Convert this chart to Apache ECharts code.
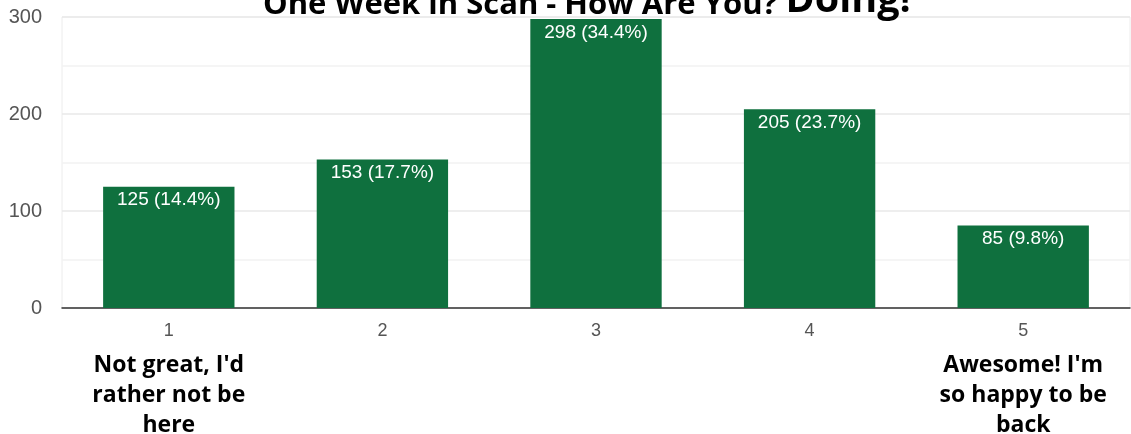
<!DOCTYPE html>
<html>
<head>
<meta charset="utf-8">
<script src="https://cdn.jsdelivr.net/npm/echarts@6/dist/echarts.min.js"></script>
<style>html,body{margin:0;padding:0;background:#fff}#c{width:1131px;height:434px}</style>
</head>
<body>
<div id="c"></div>
<script>
const categories = ['1', '2', '3', '4', '5'];
const counts = [125, 153, 298, 205, 85];
const percents = ['14.4', '17.7', '34.4', '23.7', '9.8'];
const yTicks = [0, 100, 200, 300];
const categoryNotes = {
  '1': ["Not great, I'd", 'rather not be', 'here'],
  '5': ["Awesome! I'm", 'so happy to be', 'back']
};
const titleMain = 'One Week in Scan - How Are You?';
const titleTail = 'Doing!';

const chart = echarts.init(document.getElementById('c'), null, {renderer: 'canvas'});
chart.setOption({
  animation: false,
  backgroundColor: '#fff',
  graphic: [{
    type: 'text',
    left: 263,
    top: -19,
    style: {
      text: '{a|' + titleMain + ' }{b|' + titleTail + '}',
      rich: {
        a: {fontFamily: 'Open Sans', fontWeight: 'bold', fontSize: 31, fill: '#000', verticalAlign: 'bottom'},
        b: {fontFamily: 'Open Sans', fontWeight: 'bold', fontSize: 39.5, fill: '#000', verticalAlign: 'bottom'}
      }
    },
    z: 100
  }],
  grid: {left: 62, right: 1, top: 17, bottom: 126, show: true, borderColor: '#ececec', borderWidth: 1,
    containLabel: false, outerBoundsMode: 'none'},
  xAxis: {
    type: 'category',
    data: categories,
    axisTick: {show: false},
    axisLine: {lineStyle: {color: '#333', width: 1.5}},
    axisLabel: {
      margin: 13,
      formatter: function (v) {
        const notes = categoryNotes[v];
        let s = '{n|' + v + '}';
        if (notes) s += '\n{g|}\n' + notes.map(t => '{a|' + t + '}').join('\n');
        return s;
      },
      rich: {
        n: {fontFamily: 'Arial', fontSize: 18, color: '#555', lineHeight: 20},
        g: {lineHeight: 9},
        a: {fontFamily: 'Open Sans', fontWeight: 'bold', fontSize: 23, color: '#000', lineHeight: 30}
      }
    }
  },
  yAxis: {
    type: 'value',
    min: 0,
    max: 300,
    interval: 100,
    axisLabel: {fontFamily: 'Arial', fontSize: 20, color: '#555', margin: 20,
      formatter: v => yTicks.includes(v) ? String(v) : ''},
    splitLine: {lineStyle: {color: '#e8e8e8', width: 1.5}},
    minorTick: {show: false, splitNumber: 2},
    minorSplitLine: {show: true, lineStyle: {color: '#f2f2f2', width: 1.5}},
    axisLine: {show: false},
    axisTick: {show: false}
  },
  series: [{
    type: 'bar',
    data: counts,
    barWidth: '61.5%',
    itemStyle: {color: '#0f703e'},
    label: {
      show: true,
      position: 'insideTop',
      distance: 4,
      fontFamily: 'Arial',
      fontSize: 19,
      color: '#fff',
      formatter: p => p.value + ' (' + percents[p.dataIndex] + '%)'
    }
  }]
});
</script>
</body>
</html>
